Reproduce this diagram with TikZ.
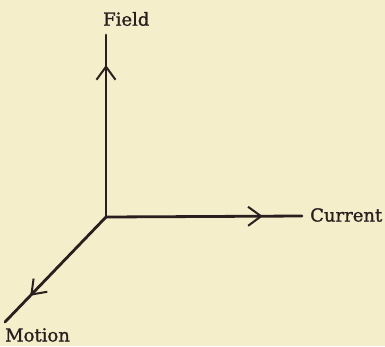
\documentclass[tikz,border=0pt]{standalone}
\usepackage{fontspec}
\setmainfont[FakeBold=1.2]{DejaVu Serif}
\usetikzlibrary{arrows.meta,decorations.markings}
\definecolor{paper}{HTML}{F5EECB}
\definecolor{ink}{HTML}{2A1E1E}
\tikzset{
  axis/.style={draw=ink, line width=2.8pt, line cap=round},
  midarrow/.style={postaction={decorate}, decoration={markings,
     mark=at position #1 with {\arrow[ink]{Straight Barb[length=13pt,width=19pt,line width=2pt]}}}},
  lbl/.style={text=ink, font=\fontsize{18}{21}\selectfont, inner sep=0pt}
}
\begin{document}
\begin{tikzpicture}[x=1pt,y=-1pt]
\fill[paper] (0,0) rectangle (385,346);
\useasboundingbox (0,0) rectangle (385,346);
\coordinate (o) at (106,217);
\coordinate (f) at (106,35);
\coordinate (c) at (302,216);
\coordinate (m) at (5,322);
\draw[axis, midarrow=0.835] (o) -- (f);
\draw[axis, midarrow=0.80] (o) -- (c);
\draw[axis, midarrow=0.75] (o) -- (m);
\node[lbl, anchor=west] (fl) at (103,19) {Field};
\node[lbl, anchor=west] (cl) at (310,215) {Current};
\node[lbl, anchor=west] (ml) at (5,335) {Motion};
\end{tikzpicture}
\end{document}
